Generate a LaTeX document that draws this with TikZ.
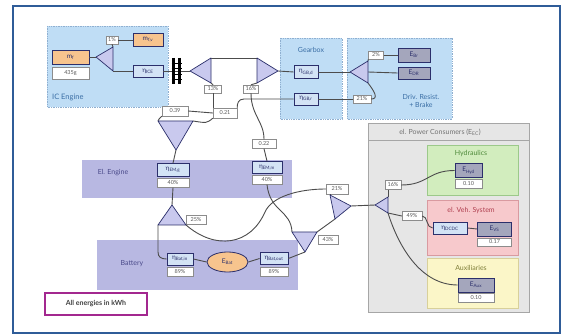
\documentclass[tikz,border=0pt]{standalone}
\usepackage{fontspec}
\setmainfont{Lato}
\usetikzlibrary{shapes.geometric}
\definecolor{frameblue}{HTML}{2F5C98}
\definecolor{icbg}{HTML}{BFDDF5}
\definecolor{icborder}{HTML}{8FAFD0}
\definecolor{ictext}{HTML}{3A6EA5}
\definecolor{lav}{HTML}{B8B8E2}
\definecolor{lavtext}{HTML}{4A4A8A}
\definecolor{navy}{HTML}{2B2F6B}
\definecolor{etafill}{HTML}{D3E3F5}
\definecolor{egray}{HTML}{A4A6BC}
\definecolor{orng}{HTML}{F7C48E}
\definecolor{pcbg}{HTML}{E6E6E6}
\definecolor{hydbg}{HTML}{D2EDBE}
\definecolor{hydbd}{HTML}{9CC98A}
\definecolor{hydtx}{HTML}{4E8A3A}
\definecolor{vsbg}{HTML}{F7C9CC}
\definecolor{vsbd}{HTML}{D99AA0}
\definecolor{vstx}{HTML}{B04050}
\definecolor{auxbg}{HTML}{FBF6C8}
\definecolor{auxbd}{HTML}{D8D09A}
\definecolor{auxtx}{HTML}{7F7F3A}
\definecolor{trifill}{HTML}{C9C9EE}
\definecolor{magenta2}{HTML}{A3288F}
\tikzset{
 conn/.style={draw=black!70, line width=0.9pt},
 valbox/.style={draw=black!45, fill=white, inner sep=0pt, font=\fontsize{5.5}{6}\selectfont, text=black!65},
 etabox/.style={draw=navy, line width=0.8pt, fill=etafill, inner sep=0pt, font=\fontsize{6.5}{7}\selectfont, text=navy},
 ebox/.style={draw=navy, line width=0.8pt, fill=egray, inner sep=0pt, font=\fontsize{6.5}{7}\selectfont, text=navy},
 obox/.style={draw=navy, line width=0.7pt, fill=orng, inner sep=0pt, font=\fontsize{6.5}{7}\selectfont, text=navy},
 tri/.style={draw=navy, line width=0.7pt, fill=trifill, line join=round},
 grpic/.style={fill=icbg, draw=icborder, densely dotted, line width=0.7pt},
 lbl/.style={inner sep=0pt, font=\fontsize{7}{8}\selectfont}
}
\begin{document}
\begin{tikzpicture}[x=1pt,y=-1pt]
\useasboundingbox (0,0) rectangle (567,336);
\fill[white] (0,0) rectangle (567,336);
\draw[frameblue, line width=1.3pt] (13,6) rectangle (560,333);

% ---------- group backgrounds ----------
\draw[grpic] (47,26) rectangle (168,107);
\node[lbl, text=ictext, anchor=west, font=\fontsize{7.5}{8}\selectfont] (icl) at (52,97) {IC Engine};
\draw[grpic] (280,38) rectangle (342,119);
\node[lbl, text=ictext] (gbl) at (311,50) {Gearbox};
\draw[grpic] (347,38) rectangle (452,119);
\node[lbl, text=ictext, align=center] (drl) at (421,101) {Driv. Resist.\\+ Brake};
\fill[lav] (82,160) rectangle (292,198);
\node[lbl, text=lavtext] (eel) at (113,173) {El. Engine};
\fill[lav] (97,240) rectangle (298,290);
\node[lbl, text=lavtext] (batl) at (132,264) {Battery};
\draw[black!35, fill=pcbg, line width=0.7pt] (368,123) rectangle (529,312);
\draw[black!35, line width=0.5pt] (368,140) -- (529,140);
\node[lbl, text=black!55] (pcl) at (440,132) {el. Power Consumers (E\textsubscript{EC})};
\draw[hydbd, fill=hydbg, line width=0.7pt] (427,145) rectangle (518,195);
\node[lbl, text=hydtx] (hydl) at (471,154) {Hydraulics};
\draw[vsbd, fill=vsbg, line width=0.7pt] (427,200) rectangle (518,255);
\node[lbl, text=vstx] (vsl) at (471,211) {el. Veh. System};
\draw[auxbd, fill=auxbg, line width=0.7pt] (427,258) rectangle (518,308);
\node[lbl, text=auxtx] (auxl) at (471,268) {Auxiliaries};

% ---------- splitter coordinates ----------
\coordinate (s0a) at (96,57);  \coordinate (s0t) at (113,47); \coordinate (s0b) at (113,71);
\coordinate (s1a) at (190,71); \coordinate (s1t) at (211,58); \coordinate (s1b) at (211,83);
\coordinate (s2t) at (257,58); \coordinate (s2b) at (257,83); \coordinate (s2a) at (278,71);
\coordinate (s3a) at (350,72); \coordinate (s3t) at (368,61); \coordinate (s3b) at (368,83); \coordinate (s3m) at (368,72);
\coordinate (s4l) at (158,121); \coordinate (s4r) at (193,121); \coordinate (s4a) at (176,150);
\coordinate (s5a) at (172,205); \coordinate (s5l) at (158,225); \coordinate (s5r) at (186,225);
\coordinate (s6t) at (330,195); \coordinate (s6a) at (351,206); \coordinate (s6b) at (335,219);
\coordinate (s7l) at (292,232); \coordinate (s7r) at (317,232); \coordinate (s7a) at (305,252);
\coordinate (s8a) at (375,205); \coordinate (s8t) at (388,197); \coordinate (s8b) at (388,213);
\coordinate (cl) at (176.5,71);

% ---------- nodes ----------
\node[obox, minimum width=37, minimum height=14] (mf) at (70.5,57) {m\textsubscript{f}};
\node[valbox, minimum width=37, minimum height=12] (p435) at (70.5,73) {435g};
\node[valbox, minimum width=12, minimum height=8] (p1) at (112,40) {1\%};
\node[obox, minimum width=30, minimum height=13] (mfv) at (148,40) {m\textsubscript{f,v}};
\node[etabox, minimum width=30, minimum height=12] (tice) at (148,71) {η\textsubscript{ICE}};
\node[valbox, minimum width=17, minimum height=8] (p13) at (213,89) {13\%};
\node[valbox, minimum width=15, minimum height=8] (p16) at (251,89) {16\%};
\node[etabox, minimum width=24, minimum height=13] (gbd) at (306,72) {η\textsubscript{GB,d}};
\node[etabox, minimum width=24, minimum height=12] (gbr) at (306,99) {η\textsubscript{GB,r}};
\node[valbox, minimum width=15, minimum height=8] (p2) at (376,55) {2\%};
\node[ebox, minimum width=32, minimum height=14] (ebr) at (414,55) {E\textsubscript{Br}};
\node[ebox, minimum width=32, minimum height=12] (edr) at (414,73) {E\textsubscript{DR}};
\node[valbox, minimum width=18, minimum height=8] (p21a) at (362,99) {21\%};
\node[valbox, minimum width=26, minimum height=10] (p039) at (175,111) {0.39};
\node[valbox, minimum width=24, minimum height=10] (p021) at (225,113) {0.21};
\node[valbox, minimum width=24, minimum height=9] (p022) at (264,144) {0.22};
\node[etabox, minimum width=32, minimum height=13] (emg) at (173,170) {η\textsubscript{EM,g}};
\node[valbox, minimum width=32, minimum height=9] (p40g) at (173,183) {40\%};
\node[etabox, minimum width=30, minimum height=12] (emm) at (267,167.5) {η\textsubscript{EM,m}};
\node[valbox, minimum width=30, minimum height=9] (p40m) at (267,180) {40\%};
\node[valbox, minimum width=20, minimum height=9] (p25) at (196,220) {25\%};
\node[valbox, minimum width=22, minimum height=10] (p21b) at (337,189) {21\%};
\node[valbox, minimum width=20, minimum height=9] (p43) at (328,240) {43\%};
\node[etabox, minimum width=26, minimum height=12] (batin) at (180,259) {η\textsubscript{Bat,in}};
\node[valbox, minimum width=26, minimum height=9] (p89a) at (180,272) {89\%};
\node[ellipse, draw=navy, line width=0.8pt, fill=orng, minimum width=41, minimum height=20, inner sep=0pt, font=\fontsize{6.5}{7}\selectfont, text=navy] (ebat) at (227.5,262) {E\textsubscript{Bat}};
\node[etabox, minimum width=28, minimum height=12] (batout) at (274,258.5) {η\textsubscript{Bat,out}};
\node[valbox, minimum width=28, minimum height=9] (p89b) at (274,272) {89\%};
\node[valbox, minimum width=16, minimum height=9] (p16b) at (393,185) {16\%};
\node[valbox, minimum width=20, minimum height=9] (p49) at (412,216) {49\%};
\node[ebox, minimum width=27, minimum height=14] (ehyd) at (468.5,170.5) {E\textsubscript{Hyd}};
\node[valbox, minimum width=27, minimum height=9] (p010a) at (468.5,184) {0.10};
\node[etabox, minimum width=34, minimum height=12] (edcdc) at (450,228) {η\textsubscript{DCDC}};
\node[ebox, minimum width=34, minimum height=14] (evs) at (494.5,229) {E\textsubscript{VS}};
\node[valbox, minimum width=34, minimum height=8] (p017) at (494.5,242) {0.17};
\node[ebox, minimum width=36, minimum height=14] (eaux) at (476,285) {E\textsubscript{Aux}};
\node[valbox, minimum width=36, minimum height=9] (p010c) at (476,298) {0.10};
\node[draw=magenta2, line width=1.2pt, fill=white, minimum width=102, minimum height=22, inner sep=0pt, font=\fontsize{7}{8}\selectfont\bfseries, text=black!75] (allk) at (96,304) {All energies in kWh};

% ---------- connectors ----------
\draw[conn] (mf.east) -- (s0a);
\draw[conn] (s0t) -- (p1.south);
\draw[conn] (p1.east) -- (mfv.west);
\draw[conn] (s0b) -- (tice.west);
\draw[conn] (tice.east) -- (s1a);
\draw[conn] (s1t) -- (s2t);
\draw[conn] (s1b) -- (p13.north);
\draw[conn] (p16.north) -- (s2b);
\draw[conn] (s2a) -- (gbd.west);
\draw[conn] (gbd.east) -- (s3a);
\draw[conn] (s3t) -- (p2.south west);
\draw[conn] (p2.east) -- (ebr.west);
\draw[conn] (s3m) -- (edr.west);
\draw[conn] (s3b) .. controls +(6,8) and +(8,0) .. (p21a.east);
\draw[conn] (p21a.west) -- (gbr.east);
\draw[conn] (gbr.west) -- (244,99) .. controls +(-6,0) and +(0,-4) .. (p021.north east);
\draw[conn] (p13.south) -- (p13.south |- p021.north);
\draw[conn] (p16.south) .. controls +(0,22) and +(0,-18) .. (p022.north);
\draw[conn] (p039.east) -- (p021.west);
\draw[conn] (p039.south west) .. controls +(-3,3) .. (s4l);
\draw[conn] (p021.south west) .. controls +(-6,5) .. (s4r);
\draw[conn] (s4a) -- (emg.north);
\draw[conn] (p022.south) -- (emm.north);
\draw[conn] (p40g.south) -- (s5a);
\draw[conn] (s5l) -- (158,252) .. controls (158,257) and (161,259) .. (batin.west);
\draw[conn] (s5r) .. controls (215,250) and (250,246) .. (265,212) .. controls (272,196) and (300,189) .. (p21b.west);
\draw[conn] (p21b.south -| s6t) -- (s6t);
\draw[conn] (p40m.south) .. controls (270,212) and (291,210) .. (s7l);
\draw[conn] (s6b) -- (s7r);
\draw[conn] (s7a) -- (batout.east);
\draw[conn] (batin.east) -- (ebat.west);
\draw[conn] (ebat.east) -- (batout.west);
\draw[conn] (s6a) -- (s8a);
\draw[conn] (s8t) -- (s8t |- p16b.south);
\draw[conn] (p16b.east) .. controls (428,185) and (428,170.5) .. (ehyd.west);
\draw[conn] (s8b) -- (p49.west);
\draw[conn] (p49.east) .. controls (428,216) and (426,228) .. (edcdc.west);
\draw[conn] (edcdc.east) -- (evs.west);
\draw[conn] (s8b) .. controls (398,245) and (420,285) .. (eaux.west);

% ---------- splitters & clutch ----------
\draw[tri] (s0a) -- (s0t) -- (s0b) -- cycle;
\draw[tri] (s1a) -- (s1t) -- (s1b) -- cycle;
\draw[tri] (s2a) -- (s2t) -- (s2b) -- cycle;
\draw[tri] (s3a) -- (s3t) -- (s3b) -- cycle;
\draw[tri] (s4a) -- (s4l) -- (s4r) -- cycle;
\draw[tri] (s5a) -- (s5l) -- (s5r) -- cycle;
\draw[tri] (s6a) -- (s6t) -- (s6b) -- cycle;
\draw[tri] (s7a) -- (s7l) -- (s7r) -- cycle;
\draw[tri] (s8a) -- (s8t) -- (s8b) -- cycle;
\draw[black, line width=2.2pt] ([xshift=-3pt]cl) ++(0,-13) -- ++(0,26);
\draw[black, line width=2.2pt] ([xshift=3pt]cl) ++(0,-13) -- ++(0,26);
\draw[black, line width=0.6pt] ([xshift=-5pt]cl) ++(0,-8) -- ++(10,0) ++(-10,5) -- ++(10,0) ++(-10,6) -- ++(10,0) ++(-10,5) -- ++(10,0);
\end{tikzpicture}
\end{document}
